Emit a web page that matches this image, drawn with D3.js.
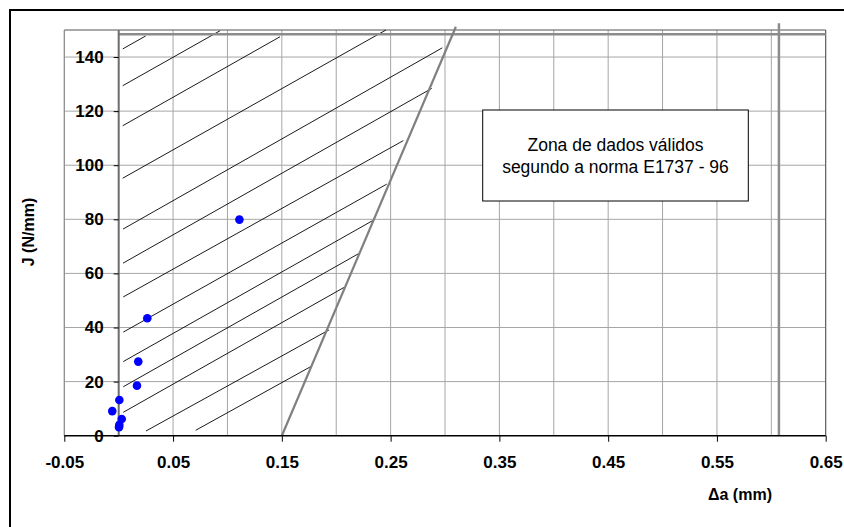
<!DOCTYPE html>
<html>
<head>
<meta charset="utf-8">
<script src="https://cdn.jsdelivr.net/npm/d3@7"></script>
<style>
  html, body { margin: 0; padding: 0; background: #fff; }
  svg { display: block; }
  text { font-family: Arial, "Liberation Sans", Helvetica, sans-serif; }
</style>
</head>
<body>
<svg id="chart" width="844" height="527"></svg>
<script>
// ---- data ----
const xTicks = [-0.05, 0.05, 0.15, 0.25, 0.35, 0.45, 0.55, 0.65];
const xGrid = [-0.05, 0, 0.05, 0.1, 0.15, 0.2, 0.25, 0.3, 0.35, 0.4, 0.45, 0.5, 0.55, 0.6, 0.65];
const yTicks = [0, 20, 40, 60, 80, 100, 120, 140];

// measured points (Δa in mm, J in N/mm)
const deltaA = [0.0263, 0.0180, 0.0168, 0.0006, -0.0059, 0.0028, 0.0006, 0.0003, 0.111];
const jValues = [43.4, 27.4, 18.5, 13.2, 9.1, 6.2, 4.0, 3.1, 79.9];

// blunting/exclusion line (offset 0.15 mm)
const bluntX = [0.15, 0.31];
const bluntJ = [0, 151.2];
// J max limit
const jmaxX = [0, 0.65];
const jmaxJ = [148.4, 148.4];
// Δa max limit
const damaxX = [0.607, 0.607];
const damaxJ = [0, 152.5];

// hatch lines of the valid zone (start / end in data units)
const hatchX1 = [0.0037, 0.0037, 0.0037, 0.0037, 0.0040, 0.0040, 0.0042, 0.0042, 0.0042, 0.0042, 0.0042, 0.0251, 0.0708];
const hatchJ1 = [143.0, 129.4, 114.6, 95.2, 76.4, 63.8, 51.3, 38.3, 27.4, 18.1, 8.65, 1.74, 2.0];
const hatchX2 = [0.0248, 0.0931, 0.1483, 0.2457, 0.2975, 0.2878, 0.2617, 0.2464, 0.2343, 0.2205, 0.2071, 0.1933, 0.1777];
const hatchJ2 = [147.8, 149.7, 147.5, 150.0, 143.4, 128.4, 109.1, 93.0, 79.7, 67.3, 54.8, 39.1, 25.8];

const boxLines = ["Zona de dados válidos", "segundo a norma E1737 - 96"];

// ---- drawing ----
const svg = d3.select("#chart");
const pLeft = 64.3, pRight = 825.7, pTop = 30, pBottom = 435.7;
const x = d3.scaleLinear().domain([-0.05, 0.65]).range([pLeft, pRight]);
const y = d3.scaleLinear().domain([0, 150]).range([pBottom, pTop]);

// outer frame (cropped at right/bottom)
svg.append("rect").attr("x", 10).attr("y", 10).attr("width", 860).attr("height", 560)
  .attr("fill", "#fff").attr("stroke", "#000").attr("stroke-width", 2);

// plot area
svg.append("rect").attr("x", pLeft).attr("y", pTop).attr("width", pRight - pLeft).attr("height", pBottom - pTop)
  .attr("fill", "#fff");

// gridlines
svg.append("g").selectAll("line").data(yTicks.filter(d => d > 0)).join("line")
  .attr("x1", pLeft).attr("x2", pRight).attr("y1", d => y(d)).attr("y2", d => y(d))
  .attr("stroke", "#a6a6a6").attr("stroke-width", 1);
svg.append("g").selectAll("line").data(xGrid).join("line")
  .attr("x1", d => x(d)).attr("x2", d => x(d)).attr("y1", pTop).attr("y2", pBottom)
  .attr("stroke", "#a6a6a6").attr("stroke-width", 1);

// plot border
svg.append("line").attr("x1", pLeft).attr("x2", pRight).attr("y1", pTop).attr("y2", pTop)
  .attr("stroke", "#555").attr("stroke-width", 1);
svg.append("line").attr("x1", pRight).attr("x2", pRight).attr("y1", pTop).attr("y2", pBottom)
  .attr("stroke", "#555").attr("stroke-width", 1);
svg.append("line").attr("x1", pLeft).attr("x2", pLeft).attr("y1", pTop).attr("y2", pBottom)
  .attr("stroke", "#888").attr("stroke-width", 1);

// hatch lines
svg.append("g").selectAll("line").data(hatchX1).join("line")
  .attr("x1", (d, i) => x(hatchX1[i])).attr("y1", (d, i) => y(hatchJ1[i]))
  .attr("x2", (d, i) => x(hatchX2[i])).attr("y2", (d, i) => y(hatchJ2[i]))
  .attr("stroke", "#000").attr("stroke-width", 0.9);

// limit lines
const line = d3.line().x(d => x(d[0])).y(d => y(d[1]));
svg.append("path").attr("d", line(jmaxX.map((d, i) => [d, jmaxJ[i]])))
  .attr("fill", "none").attr("stroke", "#8c8c8c").attr("stroke-width", 2.5);
svg.append("path").attr("d", line(damaxX.map((d, i) => [d, damaxJ[i]])))
  .attr("fill", "none").attr("stroke", "#8c8c8c").attr("stroke-width", 2.5);
svg.append("path").attr("d", line(bluntX.map((d, i) => [d, bluntJ[i]])))
  .attr("fill", "none").attr("stroke", "#808080").attr("stroke-width", 2.2);

// y axis at x = 0
const yAxisG = svg.append("g").attr("transform", `translate(${x(0)},0)`)
  .call(d3.axisLeft(y).tickValues(yTicks).tickSize(5).tickFormat(d3.format("d")));
yAxisG.select(".domain").attr("stroke", "#6e6e6e").attr("stroke-width", 2)
  .attr("d", `M0,${pBottom}V${pTop}`);
yAxisG.selectAll(".tick line").attr("stroke", "#000");
yAxisG.selectAll(".tick text").attr("x", -15).attr("font-size", 17).attr("font-weight", "bold")
  .attr("fill", "#000").attr("font-family", "Arial, 'Liberation Sans', sans-serif");

// x axis at y = 0
const fmtX = d => d3.format(".2f")(d).replace("\u2212", "-");
const xAxisG = svg.append("g").attr("transform", `translate(0,${pBottom})`)
  .call(d3.axisBottom(x).tickValues(xTicks).tickSize(6).tickFormat(fmtX));
xAxisG.select(".domain").attr("stroke", "#000").attr("stroke-width", 1.5)
  .attr("d", `M${pLeft},0H${pRight}`);
xAxisG.selectAll(".tick line").attr("stroke", "#000");
xAxisG.selectAll(".tick text").attr("y", 20).attr("font-size", 17).attr("font-weight", "bold")
  .attr("fill", "#000").attr("font-family", "Arial, 'Liberation Sans', sans-serif");

// points
svg.append("g").selectAll("circle").data(deltaA).join("circle")
  .attr("cx", (d, i) => x(deltaA[i])).attr("cy", (d, i) => y(jValues[i]))
  .attr("r", 4.3).attr("fill", "#0000ff");

// axis titles
svg.append("text").attr("x", 740).attr("y", 500).attr("text-anchor", "middle")
  .attr("font-size", 16).attr("font-weight", "bold").text("Δa (mm)");
svg.append("text").attr("transform", "translate(34,232) rotate(-90)").attr("text-anchor", "middle")
  .attr("font-size", 16).attr("font-weight", "bold").text("J (N/mm)");

// annotation box
svg.append("rect").attr("x", 482.7).attr("y", 110).attr("width", 265.6).attr("height", 91)
  .attr("fill", "#fff").attr("stroke", "#000").attr("stroke-width", 1);
svg.append("g").selectAll("text").data(boxLines).join("text")
  .attr("x", 615.5).attr("y", (d, i) => 151 + i * 22).attr("text-anchor", "middle")
  .attr("font-size", 17.5).attr("fill", "#000").text(d => d);
</script>
</body>
</html>
